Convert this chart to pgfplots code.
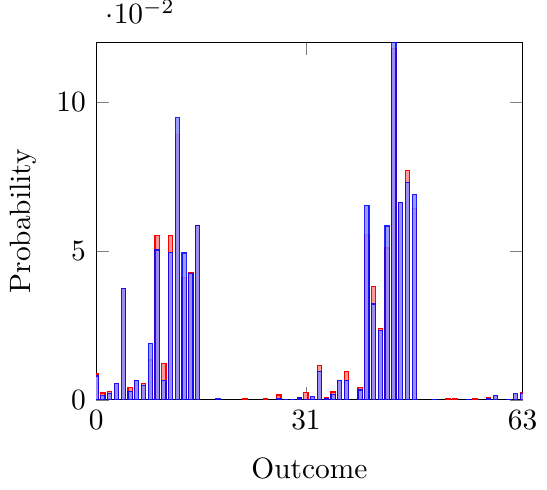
\documentclass[border=0pt]{standalone}
\usepackage{pgfplots}
\pgfplotsset{compat=1.18}
\begin{document}
\begin{tikzpicture}
\begin{axis}[
  scale only axis,
  width=145pt, height=121.5pt,
  xmin=0, xmax=63, ymin=0, ymax=0.12,
  xtick={0,31,63},
  ytick={0,0.05,0.1},
  scaled y ticks=base 10:2,
  every y tick scale label/.append style={yshift=2.5pt},
  xlabel={Outcome}, ylabel={Probability},
  xlabel style={yshift=-3pt},
]
\addplot[ybar, bar width=0.62, bar shift=0pt, draw=red, fill=red!40] coordinates {
(0,0.0087) (1,0.0023) (2,0.0029) (3,0.0056) (4,0.0375) (5,0.0041) (6,0.0066) (7,0.0054)
(8,0.0134) (9,0.0553) (10,0.0122) (11,0.0553) (12,0.0890) (13,0.0410) (14,0.0426) (15,0.0586)
(22,0.0003) (25,0.0003) (27,0.0016) (30,0.0009) (31,0.0025) (32,0.0009) (33,0.0115)
(34,0.0006) (35,0.0026) (36,0.0066) (37,0.0096) (39,0.0040) (40,0.0555) (41,0.0381)
(42,0.0239) (43,0.0510) (44,0.1180) (45,0.0663) (46,0.0771) (47,0.0644)
(52,0.0003) (53,0.0003) (56,0.0005) (58,0.0008) (59,0.0010) (62,0.0018) (63,0.0023)
};
\addplot[ybar, bar width=0.62, bar shift=0pt, draw=blue, draw opacity=0.85, fill=blue!45, fill opacity=0.85] coordinates {
(0,0.0080) (1,0.0015) (2,0.0020) (3,0.0056) (4,0.0375) (5,0.0029) (6,0.0066) (7,0.0049)
(8,0.0190) (9,0.0503) (10,0.0066) (11,0.0496) (12,0.0947) (13,0.0493) (14,0.0423) (15,0.0586)
(18,0.0003) (27,0.0004) (28,0.0002) (29,0.0002) (30,0.0006) (31,0.0001) (32,0.0010)
(33,0.0095) (34,0.0004) (35,0.0019) (36,0.0066) (37,0.0066) (39,0.0033) (40,0.0652)
(41,0.0322) (42,0.0234) (43,0.0584) (44,0.1200) (45,0.0663) (46,0.0729) (47,0.0691)
(50,0.0002) (55,0.0002) (58,0.0004) (59,0.0014) (61,0.0002) (62,0.0020) (63,0.0021)
};
\end{axis}
\end{tikzpicture}
\end{document}
